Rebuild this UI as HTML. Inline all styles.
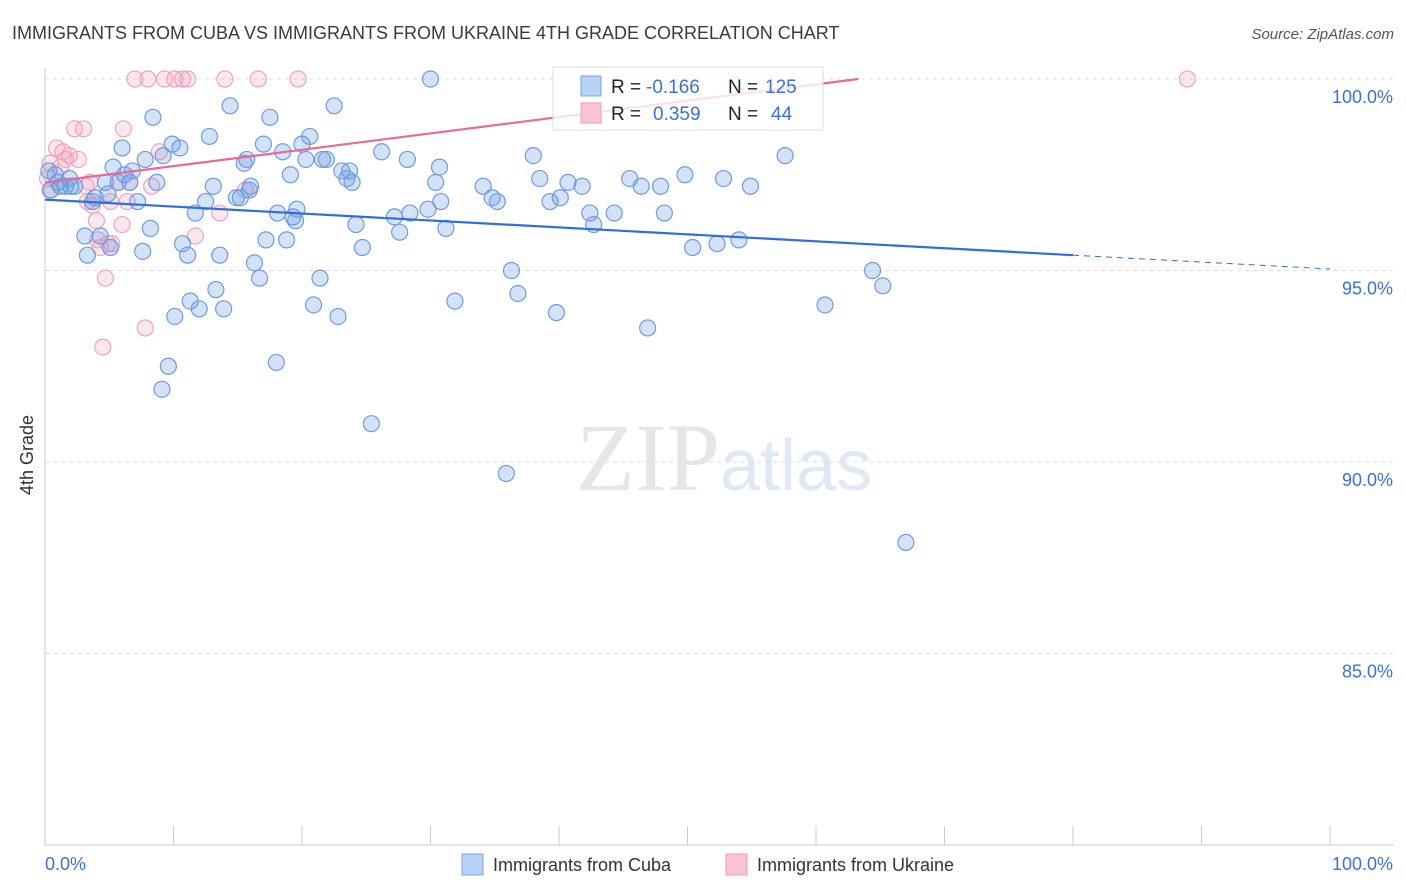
<!DOCTYPE html>
<html><head><meta charset="utf-8"><style>
body{margin:0;background:#fff;font-family:"Liberation Sans",sans-serif}
svg{display:block}
</style></head><body>
<svg id="chart" width="1406" height="892" xmlns="http://www.w3.org/2000/svg">
<text x="12" y="39" font-size="18" fill="#3a3a3a">IMMIGRANTS FROM CUBA VS IMMIGRANTS FROM UKRAINE 4TH GRADE CORRELATION CHART</text>
<text x="1394" y="39" font-size="15" fill="#555" text-anchor="end" font-style="italic">Source: ZipAtlas.com</text>
<text x="720" y="490" font-size="96" fill="#e6e6e6" text-anchor="end" font-family="Liberation Serif">ZIP</text>
<text x="720" y="490" font-size="72" fill="#dfe8f5">atlas</text>
<g id="grid"></g>
<g id="axes"></g>
<g id="pts"></g>
<g id="trends"></g>
<g>
<rect x="553" y="67" width="270" height="63" fill="#fff" fill-opacity="0.8" stroke="#ddd"/>
<rect x="581" y="76" width="20" height="20" fill="#b8d2f5" stroke="#7aa6e6"/>
<rect x="581" y="103" width="20" height="20" fill="#f9c3d4" stroke="#ee9ab6"/>
<text x="611" y="93" font-size="19" fill="#222">R = </text><text x="646" y="93" font-size="19" fill="#3a72d0">-0.166</text>
<text x="728" y="93" font-size="19" fill="#222">N = </text><text x="765" y="93" font-size="19" fill="#3a72d0">125</text>
<text x="611" y="120" font-size="19" fill="#222">R = </text><text x="653" y="120" font-size="19" fill="#3a72d0">0.359</text>
<text x="728" y="120" font-size="19" fill="#222">N = </text><text x="771" y="120" font-size="19" fill="#3a72d0">44</text>
</g>
<g>
<rect x="462" y="854" width="21" height="21" fill="#b8d2f5" stroke="#7aa6e6"/>
<text x="493" y="871" font-size="18" fill="#333">Immigrants from Cuba</text>
<rect x="726" y="854" width="21" height="21" fill="#f9c3d4" stroke="#ee9ab6"/>
<text x="757" y="871" font-size="18" fill="#333">Immigrants from Ukraine</text>
</g>
<text transform="translate(33,455) rotate(-90)" font-size="18" fill="#333" text-anchor="middle">4th Grade</text>
</svg>
<script>
const cubaX=[0.4,0.8,1.2,1.6,1.9,2.3,3.1,3.3,3.7,3.9,4.3,4.7,5.1,5.3,5.7,6.0,6.2,6.6,6.8,7.2,7.6,7.8,8.2,8.4,8.7,9.2,9.6,9.9,10.1,10.5,10.7,11.1,11.3,11.7,12.0,12.5,12.8,13.1,13.3,13.6,13.9,14.4,14.9,15.2,15.5,15.7,16.0,16.3,16.7,17.0,17.2,17.5,18.0,18.1,18.5,18.8,19.1,19.5,19.6,20.0,20.3,20.6,20.9,21.4,21.9,22.5,22.8,23.1,23.5,23.7,23.9,24.2,24.7,25.4,26.2,27.2,27.6,28.2,28.4,29.8,30.0,30.4,30.7,30.8,31.2,31.9,34.1,34.8,35.2,35.9,36.3,36.8,38.0,38.5,39.3,39.8,40.1,40.7,41.8,42.4,42.7,44.3,45.5,46.4,46.9,47.9,48.2,49.8,50.4,52.3,52.8,54.0,54.9,57.6,60.7,64.4,65.2,67.0,9.1,0.3,2.0,4.9,1.0,15.9,19.3,21.6];
const cubaY=[97.1,97.5,97.2,97.2,97.4,97.2,95.9,95.4,96.8,96.9,95.9,97.3,95.6,97.7,97.3,98.2,97.5,97.3,97.6,96.8,95.5,97.9,96.1,99.0,97.3,98.0,92.5,98.3,93.8,98.2,95.7,95.4,94.2,96.5,94.0,96.8,98.5,97.2,94.5,95.4,94.0,99.3,96.9,96.9,97.8,97.9,97.2,95.2,94.8,98.3,95.8,99.0,92.6,96.5,98.1,95.8,97.5,96.3,96.6,98.3,97.9,98.5,94.1,94.8,97.9,99.3,93.8,97.6,97.4,97.6,97.3,96.2,95.6,91.0,98.1,96.4,96.0,97.9,96.5,96.6,100.0,97.3,97.7,96.8,96.1,94.2,97.2,96.9,96.8,89.7,95.0,94.4,98.0,97.4,96.8,93.9,96.9,97.3,97.2,96.5,96.2,96.5,97.4,97.2,93.5,97.2,96.5,97.5,95.6,95.7,97.4,95.8,97.2,98.0,94.1,95.0,94.6,87.9,91.9,97.6,97.2,97.0,97.3,97.1,96.4,97.9];
const ukrX=[0.4,0.5,0.9,1.2,1.4,1.6,1.9,2.3,2.6,3.0,3.2,3.3,3.5,3.7,4.0,4.1,4.3,4.5,4.7,4.9,5.1,5.2,5.7,6.0,6.1,6.4,6.6,7.0,7.8,8.0,8.3,8.9,9.3,10.1,10.7,11.1,11.7,13.6,14.0,15.6,16.6,19.7,88.9,0.2];
const ukrY=[97.8,97.1,98.2,97.7,98.1,97.9,98.0,98.7,97.9,98.7,97.2,96.8,97.3,96.7,96.3,95.8,95.6,93.0,94.8,95.7,96.8,95.7,97.3,96.2,98.7,96.8,97.3,100,93.5,100,97.2,98.1,100,100,100,100,95.9,96.5,100,97.1,100,100,100,97.4];
const yTicks=[100,95,90,85];
const yTickLabels=["100.0%","95.0%","90.0%","85.0%"];
const xTicks=[0,10,20,30,40,50,60,70,80,90,100];
const cubaTrend=[[0,96.85],[80,95.4]];
const cubaTrendExt=[[80,95.4],[100,95.04]];
const ukrTrend=[[0,97.3],[63.3,100]];

const X=v=>45+v*12.85, Y=v=>79+(100-v)*38.3;
const NS="http://www.w3.org/2000/svg";
function mk(p,tag,a){const e=document.createElementNS(NS,tag);for(const k in a)e.setAttribute(k,a[k]);p.appendChild(e);return e;}
const grid=document.getElementById('grid'),axes=document.getElementById('axes'),pts=document.getElementById('pts'),tr=document.getElementById('trends');
yTicks.forEach((t,i)=>{
 const l=mk(grid,'line',{x1:45,x2:1394,y1:Y(t),y2:Y(t),stroke:'#ddd','stroke-dasharray':'4,4'});
 
 
 const tx=mk(axes,'text',{x:1393,y:Y(t)+24,'font-size':18,fill:'#3a72d0','text-anchor':'end'});
 tx.textContent=yTickLabels[i];
 
 
});
const ya=mk(axes,'line',{x1:45,x2:45,y1:68,y2:845,stroke:'#ccc'});


const xa=mk(axes,'line',{x1:45,x2:1394,y1:845,y2:845,stroke:'#ccc'});


xTicks.forEach(t=>{const l=mk(axes,'line',{x1:X(t),x2:X(t),y1:826,y2:845,stroke:'#ccc'});
 
 });
const x0=mk(axes,'text',{x:45,y:870,'font-size':18,fill:'#3a72d0'});x0.textContent='0.0%';


const x1=mk(axes,'text',{x:1393,y:870,'font-size':18,fill:'#3a72d0','text-anchor':'end'});x1.textContent='100.0%';


ukrX.forEach((v,i)=>{const c=mk(pts,'circle',{cx:X(v),cy:Y(ukrY[i]),r:8,fill:'rgba(244,160,190,0.25)',stroke:'#f0a3bd','stroke-width':1.2});
 
 });
cubaX.forEach((v,i)=>{const c=mk(pts,'circle',{cx:X(v),cy:Y(cubaY[i]),r:8,fill:'rgba(110,160,230,0.3)',stroke:'#6f9be0','stroke-width':1.2});
 
 });
function ln(d,col,dash,name){const l=mk(tr,'line',{x1:X(d[0][0]),y1:Y(d[0][1]),x2:X(d[1][0]),y2:Y(d[1][1]),stroke:col,'stroke-width':dash?1:2.2});
 if(dash)l.setAttribute('stroke-dasharray','6,5');
 
 }
ln(cubaTrend,'#2f6fd6',false,'trend-line-cuba');
ln(cubaTrendExt,'#2f6fd6',true,'trend-line-cuba-extension');
ln(ukrTrend,'#e86a95',false,'trend-line-ukraine');
</script>
</body></html>
